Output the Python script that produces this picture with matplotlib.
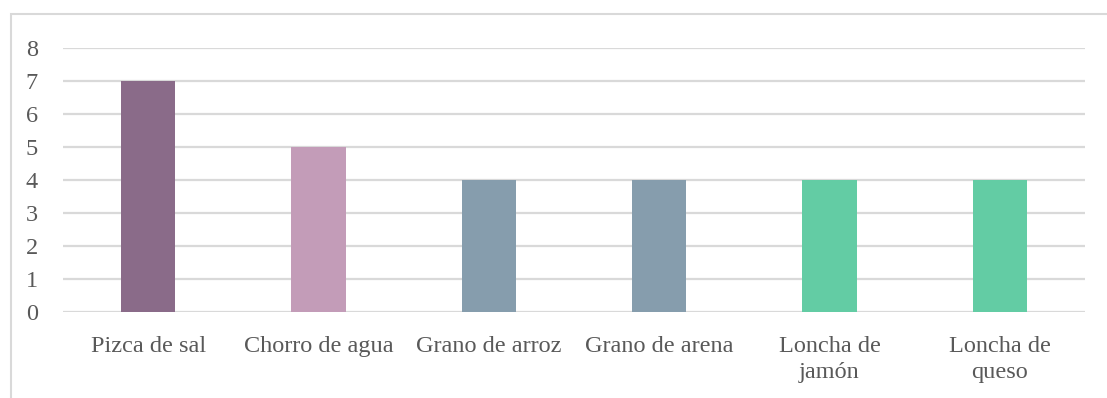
import matplotlib.pyplot as plt
from matplotlib.patches import Rectangle

categories = ["Pizca de sal", "Chorro de agua", "Grano de arroz", "Grano de arena",
              "Loncha de\njamón", "Loncha de\nqueso"]
values = [7, 5, 4, 4, 4, 4]
colors = ["#8A6B89", "#C39CB8", "#869DAD", "#869DAD", "#63CCA4", "#63CCA4"]
yticks = [0, 1, 2, 3, 4, 5, 6, 7, 8]

plt.rcParams['font.family'] = ['Liberation Serif', 'DejaVu Serif']
text_color = "#595959"
grid_color = "#D9D9D9"

fig = plt.figure(figsize=(11.07, 3.98), dpi=100)
ax = fig.add_axes([63 / 1107, 1 - 312 / 398, (1085 - 63) / 1107, (312 - 48) / 398])

x = range(len(categories))
ax.bar(x, values, width=0.32, color=colors, zorder=3)

ax.set_xlim(-0.5, len(categories) - 0.5)
ax.set_ylim(0, 8)
ax.set_yticks(yticks)
ax.set_xticks(list(x))
ax.set_xticklabels(categories, linespacing=1.35)
ax.tick_params(axis='both', length=0, colors=text_color, labelsize=17.5)
ax.tick_params(axis='y', pad=18)
ax.tick_params(axis='x', pad=17)
ax.yaxis.grid(True, color=grid_color, linewidth=1.6, zorder=0)
ax.set_axisbelow(True)
for s in ax.spines.values():
    s.set_visible(False)

# chart frame
fig.patches.append(Rectangle((10.5 / 1107, -0.1), 1.2, 1 - 13.5 / 398 + 0.1,
                             transform=fig.transFigure, fill=False,
                             edgecolor=grid_color, linewidth=1.5))

fig.savefig("out.png", dpi=100)
